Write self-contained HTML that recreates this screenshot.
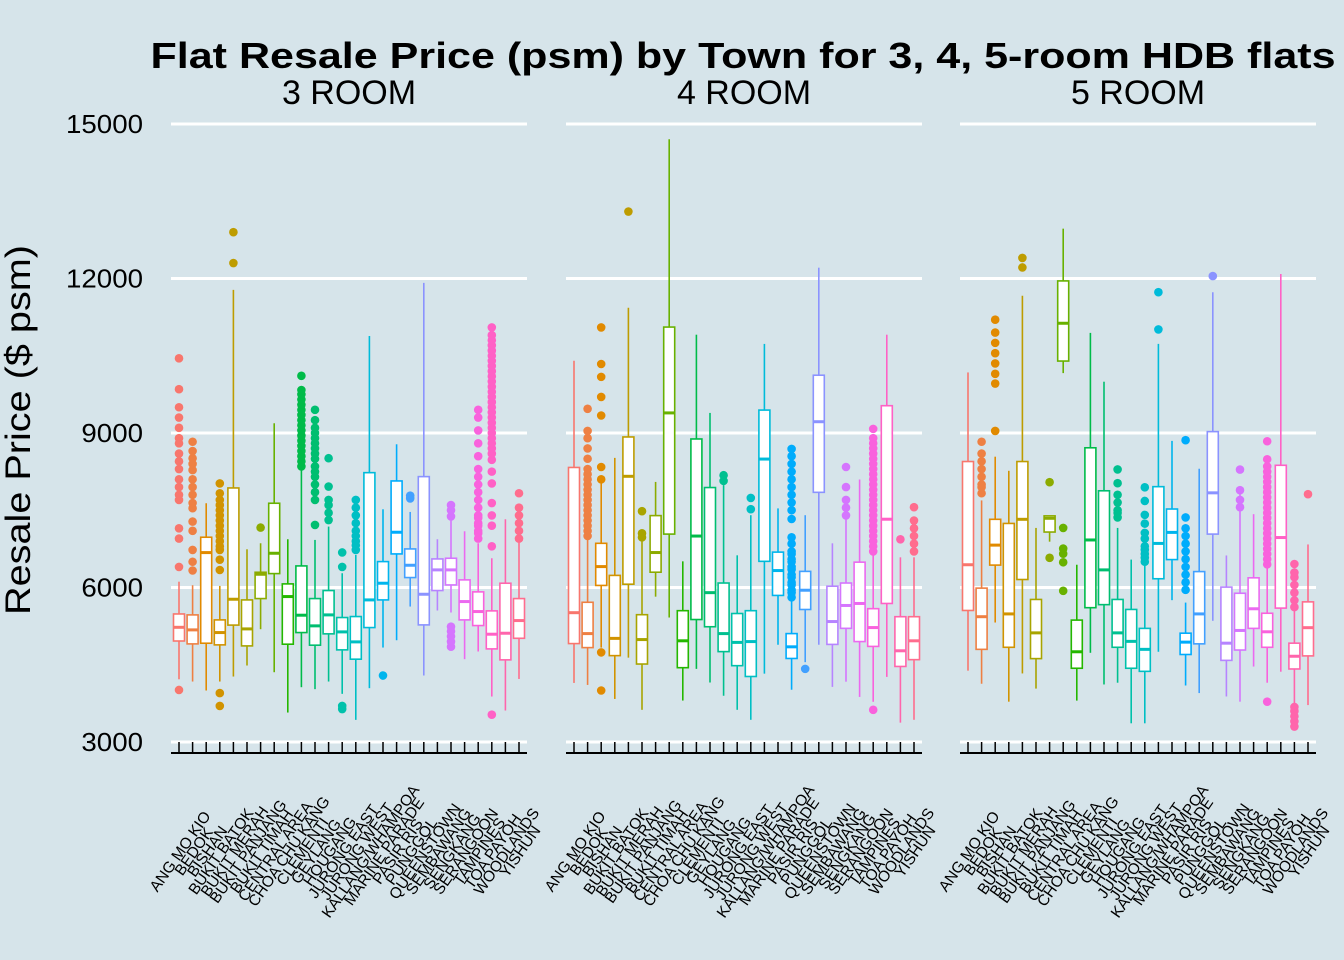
<!DOCTYPE html>
<html><head><meta charset="utf-8"><style>
html,body{margin:0;padding:0;background:#d6e4ea;}
svg{display:block;font-family:"Liberation Sans",sans-serif;}
</style></head><body>
<svg id="chart" width="1344" height="960" viewBox="0 0 1344 960">
<rect width="1344" height="960" fill="#d6e4ea"/>
<text x="743" y="68" text-anchor="middle" font-size="36" font-weight="bold" textLength="1185" lengthAdjust="spacingAndGlyphs">Flat Resale Price (psm) by Town for 3, 4, 5-room HDB flats</text>
<text x="30" y="430" text-anchor="middle" font-size="35" transform="rotate(-90 30 430)" textLength="370" lengthAdjust="spacingAndGlyphs">Resale Price ($ psm)</text>
<g id="plot"></g>
</svg>
<script>
const towns=["ANG MO KIO","BEDOK","BISHAN","BUKIT BATOK","BUKIT MERAH","BUKIT PANJANG","BUKIT TIMAH","CENTRAL AREA","CHOA CHU KANG","CLEMENTI","GEYLANG","HOUGANG","JURONG EAST","JURONG WEST","KALLANG/WHAMPOA","MARINE PARADE","PASIR RIS","PUNGGOL","QUEENSTOWN","SEMBAWANG","SENGKANG","SERANGOON","TAMPINES","TOA PAYOH","WOODLANDS","YISHUN"];
const panels=["3 ROOM","4 ROOM","5 ROOM"];
const yTicks=[3000,6000,9000,12000,15000];
// [lowWhisker, q1, median, q3, highWhisker]
const stats3=[[4218,4961,5227,5486,6113],[4174,4905,5177,5468,6044],[4000,4918,6678,6976,7636],[4174,4886,5125,5371,6031],[4271,5270,5772,7933,11778],[4485,4866,5196,5759,6742],[5190,5785,6257,6296,6859],[4355,6270,6665,7636,9189],[3572,4899,5824,6070,6937],[4064,5125,5462,6419,8300],[4026,4880,5255,5785,6924],[4174,5100,5468,5941,7183],[3935,4789,5138,5417,6277],[3430,4608,4944,5436,6633],[4045,5222,5759,8230,10884],[4834,5759,6083,6503,7519],[4976,6652,7073,8069,8781],[5630,6193,6432,6749,7467],[4291,5274,5869,8153,11914],[5553,5941,6342,6555,6937],[5514,6050,6342,6568,7300],[4608,5371,5727,6148,7092],[4757,5261,5533,5915,6859],[3883,4808,5093,5546,6568],[3611,4595,5112,6083,7325],[4224,5014,5358,5785,6885]];
const stats4=[[4147,4911,5511,8331,10403],[4108,4833,5105,5713,6975],[4833,6040,6406,6858,8105],[3836,4677,5012,6235,8517],[4638,6064,8159,8923,11431],[3625,4514,4989,5472,6897],[5822,6297,6679,7396,8050],[5417,7037,9390,11057,14703],[3805,4443,4965,5550,6508],[4420,5378,6999,8884,10909],[4155,5238,5900,7941,9390],[3898,4755,5105,6087,7988],[3625,4482,4934,5495,6625],[3431,4272,4950,5550,7404],[4327,6508,8494,9445,10730],[4888,5846,6329,6687,7536],[4015,4622,4848,5105,5768],[4550,5573,5947,6313,7404],[4888,7848,9219,10122,12210],[4070,4895,5339,6025,6858],[4171,5207,5651,6087,7365],[3875,4950,5690,6492,8097],[3781,4856,5222,5589,6625],[4264,5690,7326,9530,10909],[3376,4467,4771,5433,6586],[3431,4599,4965,5433,6586]];
const stats5=[[4385,5554,6442,8446,10176],[4131,4799,5433,5988,7691],[5320,6435,6823,7324,8540],[3783,4839,5487,7244,8266],[4331,6155,7324,8446,11666],[4037,4619,5119,5768,7157],[6890,7077,7344,7391,7391],[10163,10397,11131,11953,12968],[3804,4432,4752,5367,6442],[4732,5608,6923,8713,10944],[4117,5667,6342,7878,9996],[4151,4839,5119,5768,7157],[3363,4432,4954,5574,6542],[3363,4372,4799,5206,6489],[4752,6170,6856,7958,10731],[5754,6542,7070,7524,8847],[4097,4699,4939,5113,5707],[3950,4906,5487,6309,8306],[5353,7037,7838,9027,11733],[3884,4585,4919,6008,6622],[3783,4786,5166,5888,7858],[4465,5206,5587,6188,7424],[4151,4839,5140,5500,6389],[4365,5600,6970,8373,12087],[3717,4418,4665,4919,5620],[3717,4672,5220,5721,6836]];
const out3=[[4010,6400,6950,7150,7700,7800,7950,8100,8300,8450,8600,8800,8900,9100,9300,9500,9850,10450],[6330,6500,6730,7100,7280,7540,7640,7800,7950,8100,8280,8400,8510,8650,8830],[],[3700,3950,6340,6540,6730,6800,6900,7000,7100,7200,7300,7400,7500,7600,7700,7830,8020],[12300,12900],[],[7163],[],[],[8350,8450,8550,8650,8750,8850,8950,9050,9150,9250,9350,9450,9550,9650,9750,9835,10110],[7215,7700,7850,8000,8150,8250,8350,8500,8600,8700,8800,8900,9000,9100,9250,9450],[7310,7450,7600,7700,7960,8510],[3640,3700,6400,6680],[6730,6820,6900,7000,7100,7250,7400,7550,7700],[],[4291],[],[7730,7784],[],[],[4850,4950,5050,5150,5240,7380,7500,7600],[],[6950,7050,7100,7200,7250,7350,7400,7550,7700,7850,8000,8150,8300,8550,8800,9050,9300,9450],[3530,6800,7200,7400,7640,8020,8250,8480,8600,8700,8800,8900,9000,9100,9200,9300,9400,9500,9600,9700,9800,9900,10000,10100,10200,10300,10400,10500,10600,10700,10800,10900,11050],[],[6950,7100,7250,7400,7550,7830]];
const out4=[[],[7000,7100,7200,7300,7400,7500,7600,7700,7800,7900,8000,8100,8200,8300,8500,8700,8900,9040,9470],[4000,4740,8100,8340,9340,9700,10090,10340,11050],[],[13300],[6975,7053,7482],[],[],[],[],[],[8070,8180],[],[7521,7739],[],[],[5810,5900,5950,6050,6100,6200,6250,6350,6400,6500,6550,6650,6700,6850,6975,7330,7500,7650,7800,7950,8100,8250,8400,8550,8690],[4420],[],[],[7400,7550,7700,7950,8340],[],[3625,6700,6800,6900,7000,7100,7200,7300,7400,7500,7600,7700,7800,7900,8000,8100,8200,8300,8400,8500,8600,8700,8800,8900,9080],[],[6936],[6700,6850,7000,7150,7300,7560]];
const out5=[[],[7830,7950,8000,8150,8300,8450,8600,8830],[9040,9960,10150,10350,10550,10750,10950,11200],[],[12214,12400],[],[6576,8045],[5935,6490,6656,6756,7157],[],[],[],[7360,7450,7500,7650,7800,8025,8292],[],[6500,6580,6650,6730,6800,6950,7060,7240,7410,7680,7945],[11011,11735],[],[5955,6100,6250,6400,6550,6700,6850,7000,7150,7360,8860],[],[12047],[],[7560,7700,7890,8290],[],[3783,6450,6550,6650,6750,6850,6950,7050,7150,7250,7350,7450,7550,7650,7750,7850,7950,8050,8150,8250,8350,8490,8840],[],[3300,3400,3500,3600,3680,5620,5750,5900,6050,6200,6290,6456],[7812]];
const allStats=[stats3,stats4,stats5];
const allOut=[out3,out4,out5];

const NS="http://www.w3.org/2000/svg";
const plot=document.getElementById('plot');
const panelLeft=[171,566,960], panelW=356;
function yScale(v){return 742-(v-3000)*(618/12000);}
function xScale(p,i){return panelLeft[p]+8+i*13.6;}
function mk(tag,attrs,parent){const e=document.createElementNS(NS,tag);for(const k in attrs)e.setAttribute(k,attrs[k]);(parent||plot).appendChild(e);return e;}
function hcl(h,c,l){
  const Xn=95.047,Yn=100,Zn=108.883;
  const hr=h*Math.PI/180,U=c*Math.cos(hr),V=c*Math.sin(hr);
  const Y=Yn*Math.pow((l+16)/116,3);
  const den=Xn+15*Yn+3*Zn,un=4*Xn/den,vn=9*Yn/den;
  const up=U/(13*l)+un,vp=V/(13*l)+vn;
  const X=Y*9*up/(4*vp),Z=Y*(12-3*up-20*vp)/(4*vp);
  const x=X/100,y=Y/100,z=Z/100;
  let r=3.2404542*x-1.5371385*y-0.4985314*z,g=-0.9692660*x+1.8760108*y+0.0415560*z,b=0.0556434*x-0.2040259*y+1.0572252*z;
  const gm=t=>{t=t<=0.0031308?12.92*t:1.055*Math.pow(t,1/2.4)-0.055;return Math.round(Math.max(0,Math.min(1,t))*255);};
  return `rgb(${gm(r)},${gm(g)},${gm(b)})`;
}
const colors=towns.map((t,i)=>hcl(15+i*360/26,100,65));

for(let p=0;p<3;p++){
  const g=mk('g',{});
  
  
  const strip=mk('text',{x:panelLeft[p]+panelW/2,y:104,'text-anchor':'middle','font-size':34},g);
  strip.textContent=panels[p];
  
  
  for(const t of yTicks){
    const gl=mk('line',{x1:panelLeft[p],x2:panelLeft[p]+panelW,y1:yScale(t),y2:yScale(t),stroke:'#fff','stroke-width':3},g);
    
    
  }
  const ax=mk('line',{x1:panelLeft[p],x2:panelLeft[p]+panelW,y1:753,y2:753,stroke:'#000','stroke-width':2},g);
  
  
  const st=allStats[p],ou=allOut[p];
  for(let i=0;i<towns.length;i++){
    const x=xScale(p,i),c=colors[i],s=st[i];
    const tk=mk('line',{x1:x,x2:x,y1:742,y2:753,stroke:'#000','stroke-width':1.5},g);
    
    
    const lb=mk('text',{x:0,y:0,'text-anchor':'middle','dominant-baseline':'middle','font-size':15.5,transform:`translate(${x+2},852) rotate(-55)`},g);
    lb.textContent=towns[i];
    
    
    const bg=mk('g',{},g);
    
    
    mk('line',{x1:x,x2:x,y1:yScale(s[4]),y2:yScale(s[3]),stroke:c,'stroke-width':1.6},bg);
    mk('line',{x1:x,x2:x,y1:yScale(s[1]),y2:yScale(s[0]),stroke:c,'stroke-width':1.6},bg);
    mk('rect',{x:x-5.5,y:yScale(s[3]),width:11,height:Math.max(1,yScale(s[1])-yScale(s[3])),fill:'#fff',stroke:c,'stroke-width':1.6},bg);
    mk('line',{x1:x-5.5,x2:x+5.5,y1:yScale(s[2]),y2:yScale(s[2]),stroke:c,'stroke-width':3},bg);
    for(const o of ou[i]){
      const d=mk('circle',{cx:x,cy:yScale(o),r:4.3,fill:c},bg);
      
      
    }
  }
}
for(const t of yTicks){
  const tl=mk('text',{x:143,y:yScale(t)+9,'text-anchor':'end','font-size':26,textLength:(String(t).length*15.4),lengthAdjust:'spacingAndGlyphs'});
  tl.textContent=t;
  
  
}
</script>
</body></html>
